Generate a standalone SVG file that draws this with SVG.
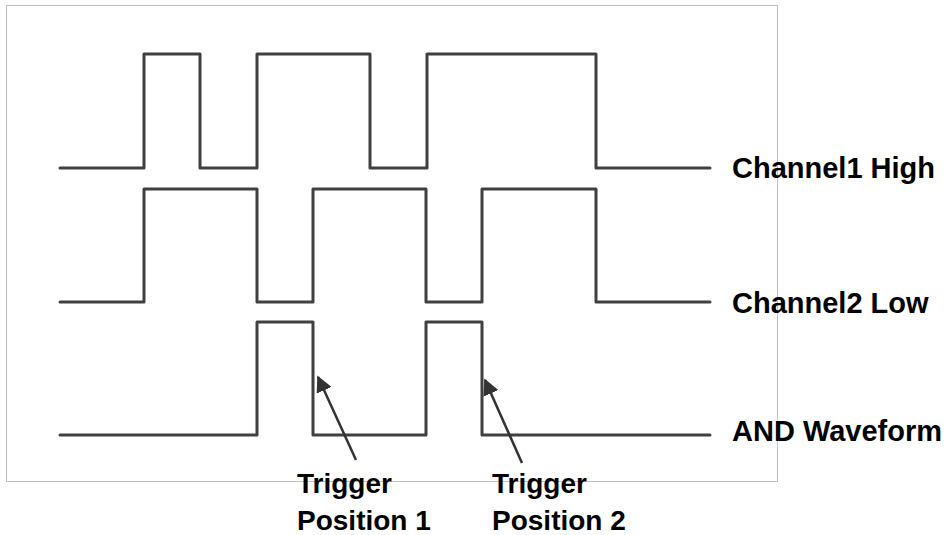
<svg xmlns="http://www.w3.org/2000/svg" width="947" height="535" viewBox="0 0 947 535">
<style>
.wave{fill:none;stroke:#404040;stroke-width:3;stroke-linejoin:round;stroke-linecap:round}
.arrow{fill:none;stroke:#333;stroke-width:2.5}
.lbl{font-family:"Liberation Sans",Arial,sans-serif;font-weight:bold;font-size:29px;fill:#000}
.tlbl{font-family:"Liberation Sans",Arial,sans-serif;font-weight:bold;font-size:28px;fill:#000}
</style>
<defs>
<marker id="ah" viewBox="0 0 10 10" refX="9" refY="5" markerWidth="6.5" markerHeight="6.5" orient="auto" markerUnits="strokeWidth">
<path d="M0,0 L10,5 L0,10 z" fill="#333"/>
</marker>
</defs>
<rect x="6.5" y="5.5" width="771" height="476" fill="#fff" stroke="#c0c0c0" stroke-width="1"/>
<g id="ch1">
<path class="wave" d="M60,168 H144 V54 H200 V168 H257 V54 H370 V168 H427 V54 H596 V168 H710"/>
<text class="lbl" x="732" y="178">Channel1 High</text>
</g>
<g id="ch2">
<path class="wave" d="M60,302 H144 V189 H257 V302 H313 V189 H426 V302 H482 V189 H596 V302 H710"/>
<text class="lbl" x="732" y="313">Channel2 Low</text>
</g>
<g id="and">
<path class="wave" d="M60,435 H257 V322 H313 V435 H426 V322 H482 V435 H710"/>
<text class="lbl" x="732" y="441">AND Waveform</text>
</g>
<g id="trig1">
<text class="tlbl" x="297" y="493">Trigger</text>
<text class="tlbl" x="297" y="530">Position 1</text>
</g>
<g id="trig2">
<text class="tlbl" x="492" y="493">Trigger</text>
<text class="tlbl" x="492" y="530">Position 2</text>
</g>
<g id="connectors">
<line class="arrow" x1="356" y1="460" x2="318" y2="377" marker-end="url(#ah)"/>
<line class="arrow" x1="522" y1="463" x2="485" y2="380" marker-end="url(#ah)"/>
</g>
</svg>
